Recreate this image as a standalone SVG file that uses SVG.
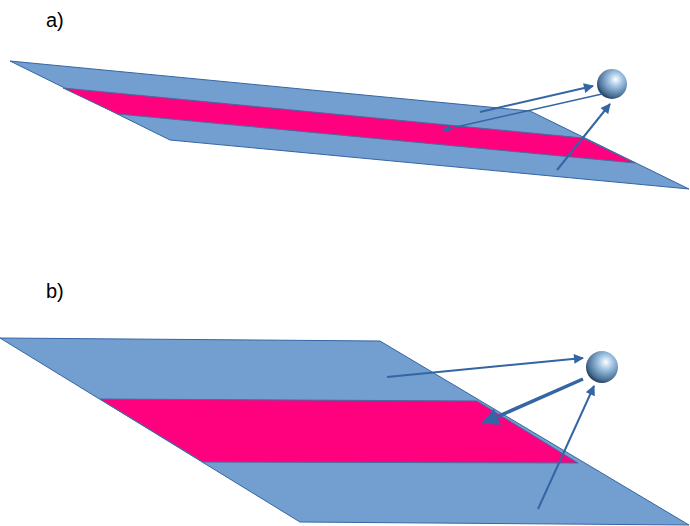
<svg xmlns="http://www.w3.org/2000/svg" width="690" height="526" viewBox="0 0 690 526">
<style>
.plane{fill:#729fcf;stroke:#3465a4;stroke-width:1}
.band{fill:#ff007f;stroke:#4a6aa0;stroke-width:1}
.ray{stroke:#3465a4;fill:none}
.lbl{font-family:"Liberation Sans",Arial,sans-serif;font-size:20px;fill:#000}
</style>
<defs>
<radialGradient id="sph" cx="0.62" cy="0.35" r="0.7">
<stop offset="0" stop-color="#ffffff"/>
<stop offset="0.35" stop-color="#9cc0e0"/>
<stop offset="0.8" stop-color="#4a6f96"/>
<stop offset="1" stop-color="#1e3550"/>
</radialGradient>
<marker id="ah" viewBox="0 0 10 10" refX="9" refY="5" markerWidth="7" markerHeight="6" markerUnits="userSpaceOnUse" orient="auto"><path d="M0,0L10,5L0,10z" fill="#3465a4"/></marker>
<marker id="a" viewBox="0 0 10 10" refX="9" refY="5" markerWidth="5.5" markerHeight="5" orient="auto"><path d="M0,0L10,5L0,10z" fill="#3465a4"/></marker>
</defs>
<text class="lbl" x="46" y="27">a)</text>
<text class="lbl" x="46" y="298">b)</text>
<g id="planeA">
<path class="plane" d="M10,61 L530,111 L689,189 L170,140 Z"/>
<path class="band" d="M63,88 L583,138 L635,163 L118,114 Z"/>
</g>
<g id="sphereA"><circle cx="612" cy="84" r="15" fill="url(#sph)"/></g>
<g id="planeB">
<path class="plane" d="M0,338 L380,341 L689,525 L300,522 Z"/>
<path class="band" d="M100,399 L477,401 L578,463 L203,462 Z"/>
</g>
<g id="sphereB"><circle cx="602" cy="367" r="16" fill="url(#sph)"/></g>
<g id="connectors">
<line class="ray" x1="480" y1="112" x2="593" y2="86" stroke-width="2" marker-end="url(#a)"/>
<line class="ray" x1="602" y1="94" x2="443" y2="130" stroke-width="1.5" marker-end="url(#a)"/>
<line class="ray" x1="557" y1="170" x2="610" y2="104" stroke-width="2" marker-end="url(#a)"/>
<line class="ray" x1="387" y1="377" x2="583" y2="358" stroke-width="2" marker-end="url(#a)"/>
<line class="ray" x1="583" y1="379" x2="483" y2="423" stroke-width="3.5" marker-end="url(#a)"/>
<line class="ray" x1="538" y1="509" x2="594" y2="386" stroke-width="2" marker-end="url(#a)"/>
</g>
</svg>
